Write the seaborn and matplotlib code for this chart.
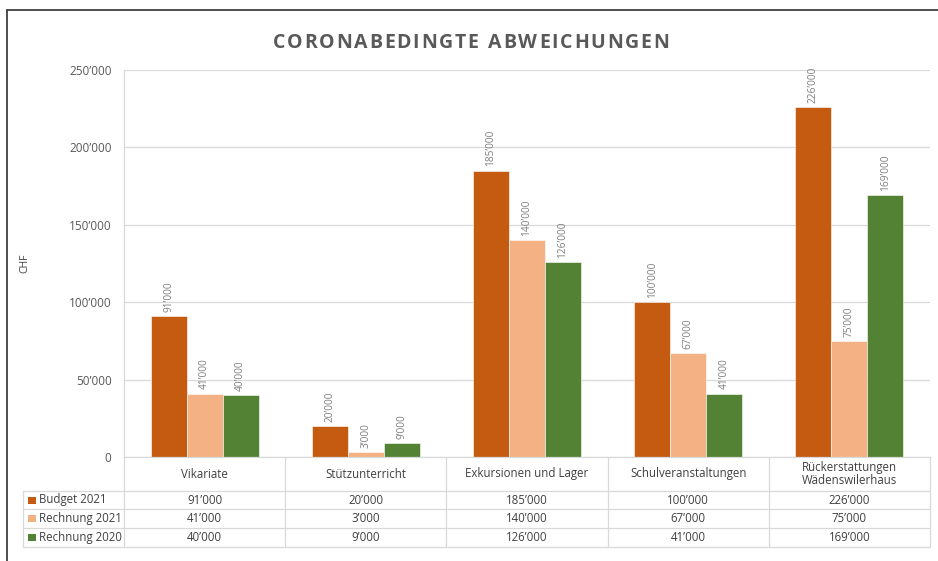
import matplotlib
matplotlib.use("Agg")
import matplotlib.pyplot as plt
from matplotlib.lines import Line2D
from matplotlib.patches import Rectangle
from matplotlib.ticker import FuncFormatter
import seaborn as sns
import pandas as pd

categories = ["Vikariate", "Stützunterricht", "Exkursionen und Lager",
              "Schulveranstaltungen", "Rückerstattungen\nWädenswilerhaus"]
series_names = ["Budget 2021", "Rechnung 2021", "Rechnung 2020"]
budget_2021 = [91000, 20000, 185000, 100000, 226000]
rechnung_2021 = [41000, 3000, 140000, 67000, 75000]
rechnung_2020 = [40000, 9000, 126000, 41000, 169000]
colors = ["#C55A11", "#F4B183", "#548235"]
y_ticks = [0, 50000, 100000, 150000, 200000, 250000]
title = "CORONABEDINGTE ABWEICHUNGEN"

series_values = [budget_2021, rechnung_2021, rechnung_2020]


def fmt(v):
    s = f"{int(v):,}".replace(",", "\u2019")
    return s


rows = []
for name, vals in zip(series_names, series_values):
    for c, v in zip(categories, vals):
        rows.append({"Kategorie": c, "CHF": v, "Serie": name})
df = pd.DataFrame(rows)

sns.set_theme(style="white")
plt.rcParams["font.family"] = ["Open Sans", "DejaVu Sans"]

W, H = 938, 561
fig = plt.figure(figsize=(W / 100, H / 100), dpi=100)
ax_l, ax_r, ax_t, ax_b = 124, 930, 70, 457
ax = fig.add_axes([ax_l / W, 1 - ax_b / H, (ax_r - ax_l) / W, (ax_b - ax_t) / H])

sns.barplot(data=df, x="Kategorie", y="CHF", hue="Serie", palette=colors,
            hue_order=series_names, order=categories, width=0.67,
            saturation=1, ax=ax, legend=False, edgecolor="white", linewidth=0.4)

ax.set_ylim(0, 250000)
ax.set_xlim(-0.5, len(categories) - 0.5)
ax.set_yticks(y_ticks)
ax.yaxis.set_major_formatter(FuncFormatter(lambda v, p: fmt(v)))
ax.tick_params(axis="y", length=0, pad=9, labelsize=8.5, labelcolor="#595959")
ax.set_xticks([])
ax.set_xlabel("")
ax.set_ylabel("CHF", fontsize=7.5, color="#404040")
ax.yaxis.set_label_coords((30 - ax_l) / (ax_r - ax_l), 0.5)
ax.grid(axis="y", color="#d9d9d9", linewidth=0.9)
ax.set_axisbelow(True)
for side in ["top", "right"]:
    ax.spines[side].set_visible(False)
for side in ["left", "bottom"]:
    ax.spines[side].set_color("#d9d9d9")
    ax.spines[side].set_linewidth(0.9)

for cont, vals in zip(ax.containers, series_values):
    ax.bar_label(cont, labels=[fmt(v) for v in vals], rotation=90, padding=3,
                 fontsize=7.3, color="#7f7f7f")

# title with letter spacing
fig.canvas.draw()
renderer = fig.canvas.get_renderer()
tprops = dict(fontsize=14, fontweight="bold", color="#595959", va="center")
widths = []
for ch in title:
    t = fig.text(0, 0, ch if ch != " " else "n", **tprops)
    widths.append(t.get_window_extent(renderer).width * (0.55 if ch == " " else 1))
    t.remove()
spacing = 1.7
total = sum(widths) + spacing * (len(title) - 1)
x = 471 - total / 2
for ch, w in zip(title, widths):
    if ch != " ":
        fig.text(x / W, 1 - 43 / H, ch, ha="left", **tprops)
    x += w + spacing

# data table below the axes
axh = ax_b - ax_t
def yax(py):
    return (ax_b - py) / axh

label_left = (23 - ax_l) / (ax_r - ax_l)
y_head = yax(491)
row_bounds = [yax(491), yax(509), yax(528), yax(547)]
grid_c = "#d9d9d9"
n = len(categories)
lk = dict(transform=ax.transAxes, clip_on=False, color=grid_c, linewidth=0.9)
for yb in row_bounds:
    ax.add_line(Line2D([label_left, 1], [yb, yb], **lk))
for i in range(n + 1):
    ax.add_line(Line2D([i / n, i / n], [0, row_bounds[-1]], **lk))
ax.add_line(Line2D([label_left, label_left], [row_bounds[0], row_bounds[-1]], **lk))

tk = dict(transform=ax.transAxes, clip_on=False, color="#404040", fontsize=8.3,
          va="center")
for i, c in enumerate(categories):
    ax.text((i + 0.5) / n, y_head / 2, c, ha="center", linespacing=1.1, **tk)
sq_w = 8 / (ax_r - ax_l)
sq_h = 7 / axh
for r, (name, vals, col) in enumerate(zip(series_names, series_values, colors)):
    ymid = (row_bounds[r] + row_bounds[r + 1]) / 2
    ax.add_patch(Rectangle((label_left + 5 / (ax_r - ax_l), ymid - sq_h / 2), sq_w, sq_h,
                           transform=ax.transAxes, clip_on=False, facecolor=col,
                           edgecolor="none"))
    ax.text(label_left + 16 / (ax_r - ax_l), ymid, name, ha="left", **tk)
    for i, v in enumerate(vals):
        ax.text((i + 0.5) / n, ymid, fmt(v), ha="center", **tk)

# outer chart border (left and top)
fig.add_artist(Line2D([7 / W, 7 / W], [0, 1 - 10 / H], transform=fig.transFigure,
                      color="#404040", linewidth=1.3))
fig.add_artist(Line2D([7 / W, 1], [1 - 10 / H, 1 - 10 / H], transform=fig.transFigure,
                      color="#404040", linewidth=1.3))

fig.savefig("out.png", dpi=100)
